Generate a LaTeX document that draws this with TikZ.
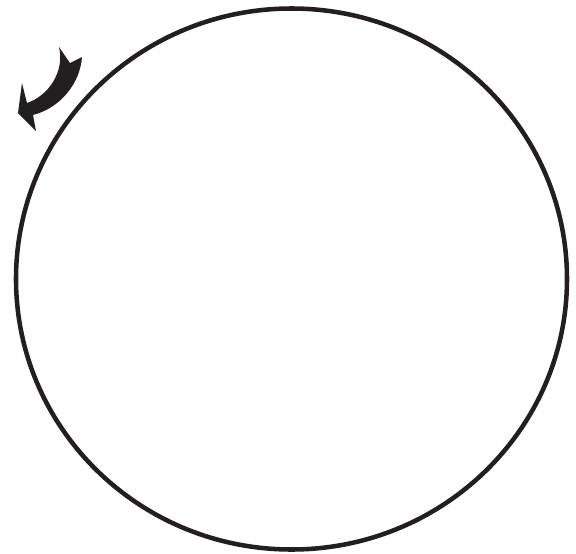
\documentclass[tikz,border=0pt]{standalone}
\usepackage{xcolor}
\definecolor{inkblack}{RGB}{35,31,32}
\tikzset{
  rim/.style={draw=inkblack,line width=3.4pt},
  turnarrow/.style={fill=inkblack,draw=none}
}
\begin{document}
\begin{tikzpicture}[x=0.75pt,y=-0.75pt]
  \useasboundingbox (0,0) rectangle (576,554);
  % outer rim
  \draw[rim] (291.5,279) ellipse [x radius=275.5, y radius=270.5];
  % curved arrow, top left
  \fill[turnarrow] (59,47) -- (70,63) -- (82,57)
    .. controls (80,84) and (60,108) .. (33,115)
    -- (36,131) -- (18,113) -- (22,83) -- (27,103)
    .. controls (48,96) and (65,72) .. (59,47) -- cycle;
\end{tikzpicture}
\end{document}
